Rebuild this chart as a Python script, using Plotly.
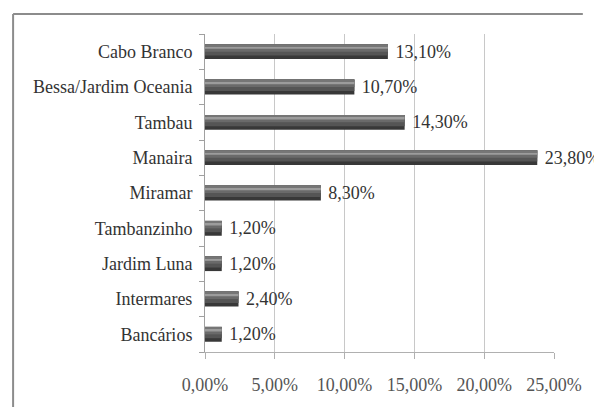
import plotly.graph_objects as go

# Data (bottom-to-top order as drawn)
categories = ["Bancários", "Intermares", "Jardim Luna", "Tambanzinho", "Miramar",
              "Manaira", "Tambau", "Bessa/Jardim Oceania", "Cabo Branco"]
values = [1.2, 2.4, 1.2, 1.2, 8.3, 23.8, 14.3, 10.7, 13.1]
tick_vals = [0, 5, 10, 15, 20, 25]
tick_labels = ["0,00%", "5,00%", "10,00%", "15,00%", "20,00%", "25,00%"]

labels = ["\u00a0" + f"{v:.2f}%".replace(".", ",") for v in values]

FONT = "Times New Roman, Tinos, Liberation Serif, DejaVu Serif, serif"

fig = go.Figure()

# layered bars to mimic the cylinder shading
layers = [
    # (offset, width, color)
    (-0.21, 0.42, "#383838"),
    (-0.11, 0.32, "#555555"),
    (0.00, 0.21, "#6a6a6a"),
    (0.08, 0.09, "#9c9c9c"),
    (0.16, 0.05, "#767676"),
]
for i, (off, w, col) in enumerate(layers):
    fig.add_trace(go.Bar(
        x=values, y=categories, orientation="h",
        offset=off, width=w,
        marker=dict(color=col, line=dict(width=0)),
        text=labels if i == 0 else None,
        textposition="outside" if i == 0 else "none",
        textfont=dict(family=FONT, size=18, color="#333333"),
        constraintext="none",
        cliponaxis=False,
        hoverinfo="skip",
        showlegend=False,
    ))

fig.update_layout(
    width=594, height=407,
    margin=dict(l=205, r=38, t=34, b=54),
    paper_bgcolor="white", plot_bgcolor="white",
    barmode="overlay",
    font=dict(family=FONT, size=18, color="#333333"),
    xaxis=dict(
        range=[0, 25], tickvals=tick_vals, ticktext=tick_labels,
        showgrid=True, gridcolor="#c8c8c8", gridwidth=1,
        zeroline=False, showline=True, linecolor="#b0b0b0", linewidth=1,
        ticks="outside", ticklen=6, tickcolor="#b0b0b0",
        ticklabelstandoff=10,
        tickfont=dict(family=FONT, size=18, color="#555555"),
        fixedrange=True,
    ),
    yaxis=dict(
        categoryorder="array", categoryarray=categories,
        range=[-0.5, len(categories) - 0.5],
        showgrid=False, zeroline=False,
        showline=True, linecolor="#a0a0a0", linewidth=1,
        ticks="outside", ticklen=5, tickcolor="#a0a0a0",
        tickson="boundaries", ticklabelstandoff=8,
        tickfont=dict(family=FONT, size=18, color="#333333"),
        fixedrange=True,
    ),
)

# outer frame (left and top edges)
pw, ph = 351.0, 319.0
def px_x(p):
    return (p - 205) / pw
def px_y(p):
    return (353 - p) / ph

fig.add_shape(type="line", xref="paper", yref="paper",
              x0=px_x(12), x1=px_x(12), y0=px_y(14), y1=px_y(420),
              line=dict(color="#8c8c8c", width=2))
fig.add_shape(type="line", xref="paper", yref="paper",
              x0=px_x(12), x1=px_x(585), y0=px_y(14), y1=px_y(14),
              line=dict(color="#8c8c8c", width=2))

fig.write_html("out.html")
